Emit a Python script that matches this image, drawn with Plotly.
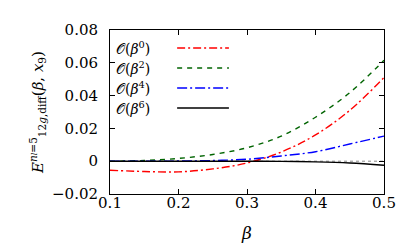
import plotly.graph_objects as go

beta = [0.1, 0.15, 0.2, 0.25, 0.3, 0.35, 0.4, 0.45, 0.5]
o_b0 = [-0.0055, -0.0063, -0.0065, -0.0047, -0.0011, 0.0056, 0.016, 0.031, 0.051]
o_b2 = [0.0, 0.0004, 0.0017, 0.0041, 0.0082, 0.0153, 0.0268, 0.0418, 0.0615]
o_b4 = [0.0, 0.0, 0.0001, 0.0004, 0.0012, 0.0032, 0.0058, 0.0105, 0.0153]
o_b6 = [0.0, 0.0, 0.0, 0.0, 0.0, -0.0001, -0.0004, -0.0011, -0.0025]

labels = ["𝒪(<i>β</i><sup>0</sup>)", "𝒪(<i>β</i><sup>2</sup>)",
          "𝒪(<i>β</i><sup>4</sup>)", "𝒪(<i>β</i><sup>6</sup>)"]
colors = ["#ff0000", "#006400", "#0000ff", "#000000"]
dashes = ["8px,3px,2px,3px", "5px,5px", "10px,3px,2px,3px", "solid"]

x_ticks = [0.1, 0.2, 0.3, 0.4, 0.5]
x_ticktext = ["0.1", "0.2", "0.3", "0.4", "0.5"]
y_ticks = [-0.02, 0, 0.02, 0.04, 0.06, 0.08]
y_ticktext = ["−0.02", "0", "0.02", "0.04", "0.06", "0.08"]

FONT = "DejaVu Serif"
fig = go.Figure()

# zero reference line (dotted)
fig.add_trace(go.Scatter(x=[beta[0], beta[-1]], y=[0, 0], mode="lines",
                         line=dict(color="#888888", width=1, dash="dot"),
                         showlegend=False, hoverinfo="skip"))

series = [o_b0, o_b2, o_b4, o_b6]
for ys, c, d in zip(series, colors, dashes):
    fig.add_trace(go.Scatter(x=beta, y=ys, mode="lines", line_shape="spline",
                             line=dict(color=c, width=1.4, dash=d),
                             showlegend=False))

# custom legend: text left, line sample right
leg_y = [0.89, 0.768, 0.646, 0.524]
for lab, c, d, yy in zip(labels, colors, dashes, leg_y):
    fig.add_annotation(x=0.015, y=yy, xref="paper", yref="paper", text=lab,
                       showarrow=False, xanchor="left", yanchor="middle",
                       font=dict(family=FONT, size=14, color="black"))
    fig.add_shape(type="line", xref="paper", yref="paper", x0=0.245, x1=0.434,
                  y0=yy, y1=yy, line=dict(color=c, width=1.4, dash=d))

fig.update_layout(
    width=410, height=246,
    margin=dict(l=102, r=34, t=22, b=60),
    paper_bgcolor="white", plot_bgcolor="white",
    font=dict(family=FONT, size=15, color="black"),
    showlegend=False,
)
fig.update_xaxes(range=[0.1, 0.5], tickvals=x_ticks, ticktext=x_ticktext,
                 showgrid=False, zeroline=False, showline=True, linecolor="black",
                 linewidth=1, mirror="ticks", ticks="inside", ticklen=5,
                 tickcolor="black", ticklabelstandoff=-5,
                 title=dict(text="<i>β</i>", standoff=16, font=dict(size=17)))
fig.update_yaxes(range=[-0.02, 0.08], tickvals=y_ticks, ticktext=y_ticktext,
                 showgrid=False, zeroline=False, showline=True, linecolor="black",
                 linewidth=1, mirror="ticks", ticks="inside", ticklen=5,
                 tickcolor="black", ticklabelstandoff=8,
                 title=dict(text="<i>E</i><sup><i>n</i><span style='font-size:8px'><i>l</i></span>=5</sup><sub>12<i>g</i>,diff</sub>(<i>β</i>, <i>x</i><sub>9</sub>)",
                            standoff=4, font=dict(size=15)))

fig.write_html("out.html")
